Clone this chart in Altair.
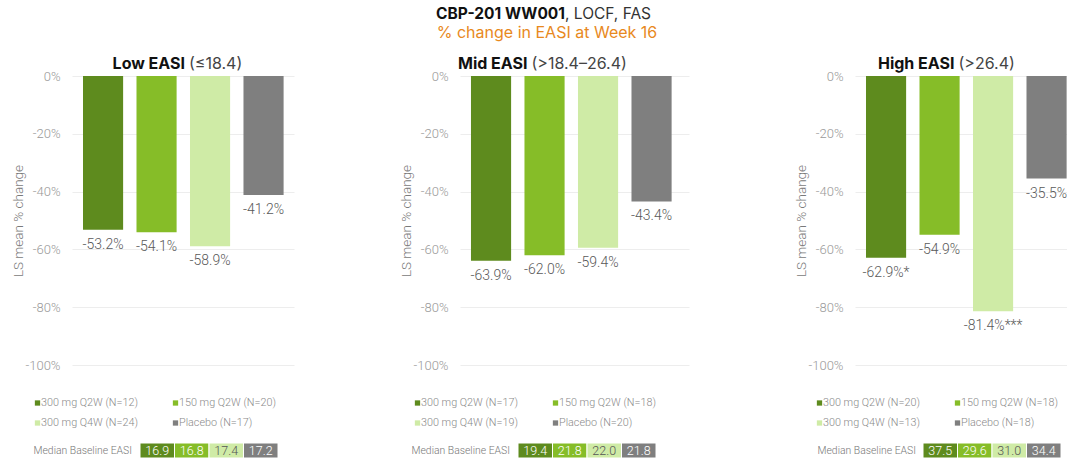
import altair as alt
import pandas as pd

# ---------------- data ----------------
treatments = ["300 mg Q2W", "150 mg Q2W", "300 mg Q4W", "Placebo"]
bar_colors = ["#5E8B1E", "#86BD28", "#CFEBA6", "#7F7F7F"]
cell_text_colors = ["#FFFFFF", "#FFFFFF", "#555555", "#FFFFFF"]

panel_bold = ["Low EASI", "Mid EASI", "High EASI"]
panel_range = ["(\u226418.4)", "(>18.4\u201326.4)", "(>26.4)"]

low_values = [-53.2, -54.1, -58.9, -41.2]
mid_values = [-63.9, -62.0, -59.4, -43.4]
high_values = [-62.9, -54.9, -81.4, -35.5]

low_sig = ["", "", "", ""]
mid_sig = ["", "", "", ""]
high_sig = ["*", "", "***", ""]

low_n = [12, 20, 24, 17]
mid_n = [17, 18, 19, 20]
high_n = [20, 18, 13, 18]

low_median = ["16.9", "16.8", "17.4", "17.2"]
mid_median = ["19.4", "21.8", "22.0", "21.8"]
high_median = ["37.5", "29.6", "31.0", "34.4"]

y_ticks = [0, -20, -40, -60, -80, -100]

main_bold = "CBP-201 WW001"
main_rest = ", LOCF, FAS"
subtitle = "% change in EASI at Week 16"
y_title = "LS mean % change"
median_title = "Median Baseline EASI"

# ---------------- layout (styles) ----------------
PLOT_H = 289
layouts = [
    dict(width=222, po=0.2, align=0.514, tx=115, lx=(-34.5, 103.5), cx=68, cl=60),
    dict(width=229, po=0.265, align=0.387, tx=69.5, lx=(-42.5, 95.5), cx=58, cl=50),
    dict(width=212, po=0.1063, align=0.967, tx=101.5, lx=(-35.5, 102.5), cx=68, cl=61),
]

LABEL_FONT = "Roboto"
TITLE_FONT = "Inter"


def panel(k, values, sig, ns, medians, extra=None):
    L = layouts[k]
    df = pd.DataFrame({
        "treatment": treatments,
        "value": values,
        "label": [f"{v:.1f}%{s}" for v, s in zip(values, sig)],
    })
    xscale = alt.Scale(type="band", domain=treatments, paddingInner=0.25,
                       paddingOuter=L["po"], align=L["align"], round=False)
    yscale = alt.Scale(domain=[-100, 0], nice=False, zero=False)
    cscale = alt.Scale(domain=treatments, range=bar_colors)

    bars = alt.Chart(df).mark_bar().encode(
        x=alt.X("treatment:N", scale=xscale, axis=None, sort=treatments),
        y=alt.Y("value:Q", scale=yscale, title=y_title,
                axis=alt.Axis(values=y_ticks, labelExpr="datum.value + '%'",
                              domain=False, ticks=False, grid=True,
                              gridColor="#EDEDED", gridWidth=1,
                              labelColor="#9A9A9A", labelFontSize=13,
                              labelFont=LABEL_FONT, labelFontWeight=300,
                              labelPadding=12, titleColor="#7A7A7A",
                              titleFontSize=13.5, titleFont=LABEL_FONT,
                              titleFontWeight=300, titlePadding=0)),
        y2=alt.datum(0),
        color=alt.Color("treatment:N", scale=cscale, legend=None),
    )
    labels = alt.Chart(df).mark_text(
        dy=15, baseline="middle", align="center", fontSize=14,
        font=LABEL_FONT, fontWeight=300, color="#595959",
    ).encode(
        x=alt.X("treatment:N", scale=xscale, axis=None, sort=treatments),
        y=alt.Y("value:Q", scale=yscale, axis=None),
        text="label:N",
    )

    t_bold = alt.Chart(pd.DataFrame({"t": [panel_bold[k]]})).mark_text(
        align="right", baseline="middle", fontSize=16, font=TITLE_FONT,
        fontWeight="bold", color="#111111",
    ).encode(x=alt.value(L["tx"] - 2), y=alt.value(-12), text="t:N")
    t_reg = alt.Chart(pd.DataFrame({"t": [panel_range[k]]})).mark_text(
        align="left", baseline="middle", fontSize=16, font=TITLE_FONT,
        fontWeight="normal", color="#444444",
    ).encode(x=alt.value(L["tx"] + 2), y=alt.value(-12), text="t:N")

    # legend
    leg = pd.DataFrame({
        "treatment": treatments,
        "text": [f"{t} (N={n})" for t, n in zip(treatments, ns)],
        "col": [0, 1, 0, 1],
        "row": [0, 0, 1, 1],
    })
    lx = alt.X("col:Q", scale=alt.Scale(domain=[0, 1], range=list(L["lx"])), axis=None)
    ly = alt.Y("row:Q", scale=alt.Scale(domain=[0, 1], range=[327, 347]), axis=None)
    leg_sq = alt.Chart(leg).mark_square(size=28, opacity=1).encode(
        x=lx, y=ly, color=alt.Color("treatment:N", scale=cscale, legend=None))
    leg_tx = alt.Chart(leg).mark_text(
        align="left", baseline="middle", dx=3.5, fontSize=10.8, font=LABEL_FONT,
        fontWeight=300, color="#8A8A8A",
    ).encode(x=lx, y=ly, text="text:N")

    # median baseline table
    tab = pd.DataFrame({
        "treatment": treatments,
        "i": [0, 1, 2, 3],
        "i2": [1, 2, 3, 4],
        "mid": [0.5, 1.5, 2.5, 3.5],
        "median": medians,
        "tc": cell_text_colors,
    })
    tscale = alt.Scale(domain=[0, 4], range=[L["cx"], L["cx"] + 138])
    cells = alt.Chart(tab).mark_rect(stroke="white", strokeWidth=1).encode(
        x=alt.X("i:Q", scale=tscale, axis=None), x2="i2:Q",
        y=alt.value(367), y2=alt.value(382),
        color=alt.Color("treatment:N", scale=cscale, legend=None),
    )
    cell_tx = alt.Chart(tab).mark_text(
        align="center", baseline="middle", fontSize=12.5, font=LABEL_FONT,
        fontWeight=300,
    ).encode(
        x=alt.X("mid:Q", scale=tscale, axis=None), y=alt.value(374.5),
        text="median:N", color=alt.Color("tc:N", scale=None),
    )
    med_lbl = alt.Chart(pd.DataFrame({"t": [median_title]})).mark_text(
        align="right", baseline="middle", fontSize=10.4, font=LABEL_FONT,
        fontWeight=300, color="#777777",
    ).encode(x=alt.value(L["cl"]), y=alt.value(374.5), text="t:N")

    layers = [bars, labels, t_bold, t_reg, leg_sq, leg_tx, cells, cell_tx, med_lbl]
    if extra:
        layers += extra
    return alt.layer(*layers).resolve_scale(
        x="independent", y="independent", color="independent"
    ).properties(width=L["width"], height=PLOT_H)


# main title as text marks on the middle panel
m_bold = alt.Chart(pd.DataFrame({"t": [main_bold]})).mark_text(
    align="right", baseline="middle", fontSize=15.5, font=TITLE_FONT,
    fontWeight="bold", color="#111111",
).encode(x=alt.value(105), y=alt.value(-62), text="t:N")
m_rest = alt.Chart(pd.DataFrame({"t": [main_rest]})).mark_text(
    align="left", baseline="middle", fontSize=15.5, font=TITLE_FONT,
    fontWeight="normal", color="#333333",
).encode(x=alt.value(105), y=alt.value(-62), text="t:N")
m_sub = alt.Chart(pd.DataFrame({"t": [subtitle]})).mark_text(
    align="center", baseline="middle", fontSize=16, font=TITLE_FONT,
    fontWeight="normal", color="#E8891D",
).encode(x=alt.value(87), y=alt.value(-43), text="t:N")

p1 = panel(0, low_values, low_sig, low_n, low_median)
p2 = panel(1, mid_values, mid_sig, mid_n, mid_median, extra=[m_bold, m_rest, m_sub])
p3 = panel(2, high_values, high_sig, high_n, high_median)

chart = alt.hconcat(p1, p2, p3, spacing=166, bounds="flush").properties(
    padding={"left": 11, "top": 7, "right": -1, "bottom": -1},
    background="white",
).configure_view(strokeWidth=0)

chart.save("out.html", embed_options={"renderer": "svg", "actions": False})
